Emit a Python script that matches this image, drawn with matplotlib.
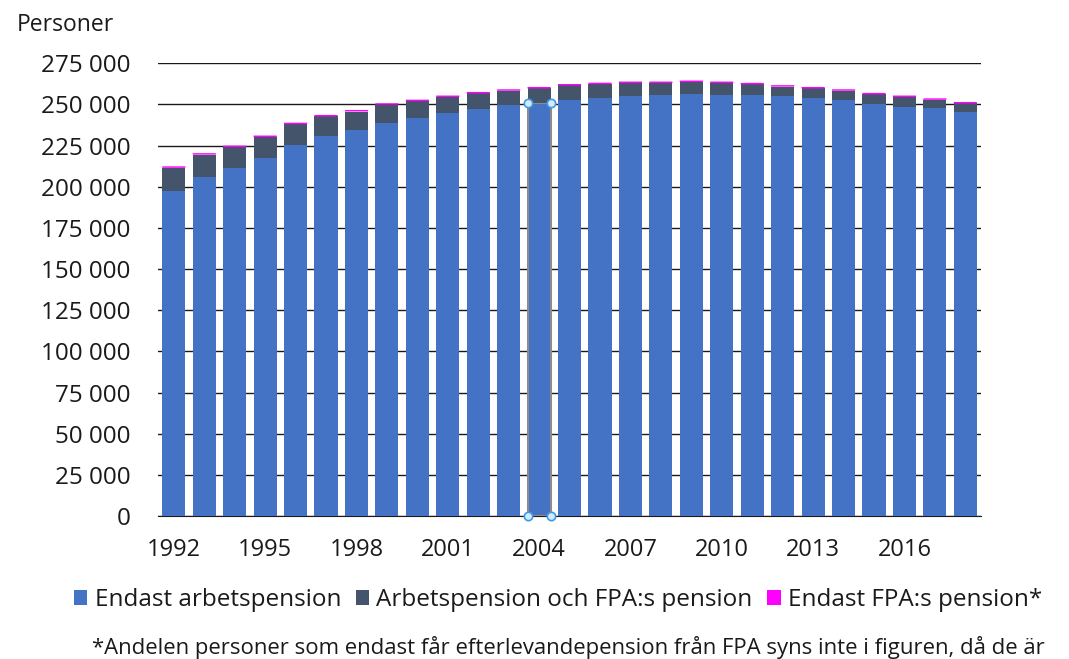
import matplotlib
matplotlib.use("Agg")
import matplotlib.pyplot as plt
from matplotlib.ticker import FuncFormatter, MultipleLocator

plt.rcParams['font.family'] = ['Open Sans', 'DejaVu Sans']

years = list(range(1992, 2019))
endast_arbets = [197300, 205900, 211300, 217400, 225400, 230900, 234700, 238600, 241600,
                 244900, 247100, 249600, 251000, 252600, 254000, 254900, 255700, 256500,
                 255700, 255700, 254900, 254000, 252600, 250400, 248600, 247700, 245500]
arbets_och_fpa = [14200, 13600, 12800, 12800, 12600, 11800, 11000, 11200, 10400,
                  9600, 9600, 8700, 8700, 8900, 8300, 8100, 7300, 7100,
                  7300, 6500, 5900, 5700, 5700, 5700, 5900, 5100, 5100]
endast_fpa = [900] * len(years)

labels = ['Endast arbetspension', 'Arbetspension och FPA:s pension', 'Endast FPA:s pension*']
colors = ['#4472C4', '#44546A', '#FF00FF']

fig = plt.figure(figsize=(10.69, 6.59), dpi=100)
ax = fig.add_axes([0.1478, 0.217, 0.77, 0.687])

x = list(range(len(years)))
w = 0.76
bottom2 = [a + b for a, b in zip(endast_arbets, arbets_och_fpa)]
b1 = ax.bar(x, endast_arbets, w, color=colors[0], label=labels[0], zorder=3)
b2 = ax.bar(x, arbets_och_fpa, w, bottom=endast_arbets, color=colors[1], label=labels[1], zorder=3)
b3 = ax.bar(x, endast_fpa, w, bottom=bottom2, color=colors[2], label=labels[2], zorder=4, snap=False)

# selection handles around 2004 bar (as in the screenshot)
i = years.index(2004)
sel = b1[i]
sel.set_edgecolor('#8c8c8c')
sel.set_linewidth(1.5)
xs = [sel.get_x(), sel.get_x() + sel.get_width()]
ax.plot(xs, [0, 0], 'o', ms=6, mfc='#d6e9fb', mec='#3c9be8', mew=1.2, zorder=5, clip_on=False)
ax.plot(xs, [endast_arbets[i]] * 2, 'o', ms=6, mfc='#d6e9fb', mec='#3c9be8', mew=1.2, zorder=5)

ax.set_xlim(-0.52, len(years) - 0.48)
ax.set_ylim(0, 275000)
ax.yaxis.set_major_locator(MultipleLocator(25000))
ax.yaxis.set_major_formatter(FuncFormatter(lambda v, p: f'{int(v):,}'.replace(',', ' ')))
ax.grid(axis='y', color='#1a1a1a', linewidth=1.0, zorder=0)
ax.set_xticks(x[::3])
ax.set_xticklabels([str(y) for y in years[::3]])
for s in ['top', 'right', 'left']:
    ax.spines[s].set_visible(False)
ax.spines['bottom'].set_color('#1a1a1a')
ax.tick_params(axis='both', length=0, colors='#1a1a1a')
ax.tick_params(axis='y', pad=20, labelsize=17.5)
ax.tick_params(axis='x', pad=16, labelsize=17)

fig.text(0.016, 0.962, 'Personer', fontsize=16.5, va='center', color='#1a1a1a')

leg = fig.legend(handles=[b1, b2, b3], labels=labels, loc='center', bbox_to_anchor=(0.522, 0.089),
                 ncol=3, frameon=False, fontsize=17.5, handlelength=0.55, handleheight=0.55,
                 handletextpad=0.3, columnspacing=0.6)
for t in leg.get_texts():
    t.set_color('#1a1a1a')

fig.text(0.086, 0.018, '*Andelen personer som endast får efterlevandepension från FPA syns inte i figuren, då de är',
         fontsize=15.9, va='center', color='#1a1a1a')

fig.savefig('out.png', dpi=100)
